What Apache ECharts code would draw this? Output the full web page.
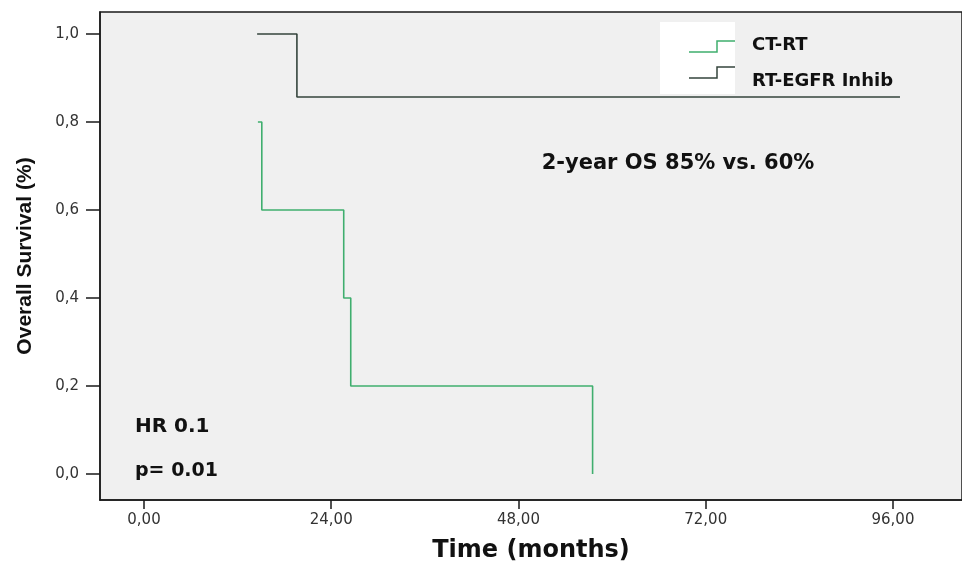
<!DOCTYPE html>
<html>
<head>
<meta charset="utf-8">
<script src="https://cdn.jsdelivr.net/npm/echarts@6/dist/echarts.min.js"></script>
<style>
  html, body { margin: 0; padding: 0; background: #fff; }
  #chart { width: 962px; height: 568px; }
</style>
</head>
<body>
<div id="chart"></div>
<script>
// Kaplan-Meier steps (months, survival)
const ctRtTime = [14.6, 15.1, 25.6, 26.5, 57.5];
const ctRtSurv = [0.8, 0.6, 0.4, 0.2, 0.0];
const egfrTime = [14.5, 19.6, 96.9];
const egfrSurv = [1.0, 0.857, 0.857];

const xTicks = [0, 24, 48, 72, 96];
const yTicks = [0, 0.2, 0.4, 0.6, 0.8, 1.0];

const seriesNames = ['CT-RT', 'RT-EGFR Inhib'];
const colors = ['#3fae6e', '#34443c'];

const zip = (xs, ys) => xs.map((x, i) => [x, ys[i]]);

const chart = echarts.init(document.getElementById('chart'));

const wideFont = 'DejaVu Sans, Verdana, sans-serif';

const option = {
    animation: false,
    backgroundColor: '#ffffff',
    grid: {
        left: 100, top: 12, right: -3, bottom: 67,
        show: true,
        backgroundColor: '#f0f0f0',
        borderColor: '#1a1a1a',
        borderWidth: 1.5
    },
    xAxis: {
        type: 'value',
        min: -5.64,
        max: 104.85,
        name: 'Time (months)',
        nameLocation: 'middle',
        nameGap: 39,
        nameTextStyle: { fontFamily: wideFont, fontSize: 24, fontWeight: 'bold', color: '#111' },
        axisLine: { onZero: false, lineStyle: { color: '#1a1a1a', width: 1.5 } },
        axisTick: { customValues: xTicks, length: 9, lineStyle: { color: '#1a1a1a', width: 1.5 } },
        axisLabel: {
            customValues: xTicks,
            margin: 13,
            fontFamily: wideFont,
            fontSize: 15,
            color: '#333',
            formatter: v => v.toFixed(2).replace('.', ',')
        },
        splitLine: { show: false }
    },
    yAxis: {
        type: 'value',
        min: -0.059,
        max: 1.05,
        name: 'Overall Survival (%)',
        nameLocation: 'middle',
        nameGap: 64,
        nameTextStyle: { fontFamily: 'Liberation Sans, Arial, sans-serif', fontSize: 21, fontWeight: 'bold', color: '#111' },
        axisLine: { onZero: false, lineStyle: { color: '#1a1a1a', width: 1.5 } },
        axisTick: { customValues: yTicks, length: 14, lineStyle: { color: '#1a1a1a', width: 1.5 } },
        axisLabel: {
            customValues: yTicks,
            margin: 21,
            fontFamily: wideFont,
            fontSize: 15,
            color: '#333',
            formatter: v => v.toFixed(1).replace('.', ',')
        },
        splitLine: { show: false }
    },
    series: [
        {
            name: seriesNames[0],
            type: 'line',
            step: 'end',
            showSymbol: false,
            data: zip(ctRtTime, ctRtSurv),
            lineStyle: { color: colors[0], width: 1.6 }
        },
        {
            name: seriesNames[1],
            type: 'line',
            step: 'end',
            showSymbol: false,
            data: zip(egfrTime, egfrSurv),
            lineStyle: { color: colors[1], width: 1.6 }
        }
    ],
    graphic: [
        // legend box with step-shaped samples
        { type: 'rect', shape: { x: 660, y: 22, width: 75, height: 72 }, style: { fill: '#ffffff' } },
        { type: 'polyline', shape: { points: [[689, 52], [717, 52], [717, 41], [735, 41]] }, style: { stroke: colors[0], lineWidth: 1.5, fill: null } },
        { type: 'polyline', shape: { points: [[689, 78], [717, 78], [717, 67], [735, 67]] }, style: { stroke: colors[1], lineWidth: 1.5, fill: null } },
        { type: 'text', x: 752, y: 45, style: { text: seriesNames[0], font: 'bold 18px ' + wideFont, fill: '#111', verticalAlign: 'middle' } },
        { type: 'text', x: 752, y: 81, style: { text: seriesNames[1], font: 'bold 18px ' + wideFont, fill: '#111', verticalAlign: 'middle' } },
        // annotations
        { type: 'text', x: 678, y: 164, style: { text: '2-year OS 85% vs. 60%', font: 'bold 21px ' + wideFont, fill: '#111', align: 'center', verticalAlign: 'middle' } },
        { type: 'text', x: 135, y: 427, style: { text: 'HR 0.1', font: 'bold 20px ' + wideFont, fill: '#111', verticalAlign: 'middle' } },
        { type: 'text', x: 135, y: 471, style: { text: 'p= 0.01', font: 'bold 19px ' + wideFont, fill: '#111', verticalAlign: 'middle' } }
    ]
};

chart.setOption(option);
</script>
</body>
</html>
